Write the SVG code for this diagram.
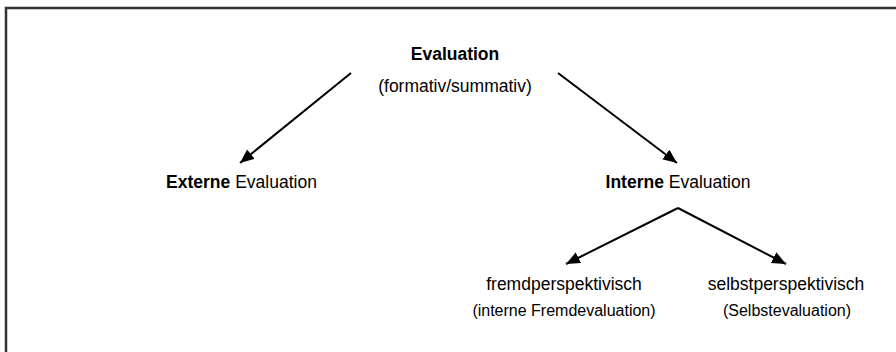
<svg xmlns="http://www.w3.org/2000/svg" width="896" height="352" viewBox="0 0 896 352">
<style>
  text { font-family: "Liberation Sans", Arial, sans-serif; fill: #000; text-anchor: middle; }
  .t { font-size: 17.5px; }
  .s { font-size: 16px; }
  .b { font-weight: bold; }
  .c { stroke: #000; stroke-width: 2; fill: none; marker-end: url(#ah); }
</style>
<defs>
  <marker id="ah" markerUnits="userSpaceOnUse" markerWidth="16" markerHeight="14" refX="14" refY="6" orient="auto">
    <path d="M0,0 L14,6 L0,12 Z" fill="#000"/>
  </marker>
</defs>
<rect x="0" y="0" width="896" height="352" fill="#fff"/>
<path d="M6,352 V8 H896" fill="none" stroke="#333" stroke-width="2.5"/>
<g id="connectors">
  <line class="c" x1="351" y1="73" x2="240" y2="163"/>
  <line class="c" x1="558" y1="73" x2="677" y2="163"/>
  <polyline class="c" points="678,208 566,264"/>
  <polyline class="c" points="678,208 786,264"/>
</g>
<g id="evaluation">
  <text class="t b" x="455" y="60">Evaluation</text>
  <text class="t" x="455" y="92">(formativ/summativ)</text>
</g>
<g id="externe">
  <text class="t" x="241.5" y="188"><tspan class="b">Externe</tspan> Evaluation</text>
</g>
<g id="interne">
  <text class="t" x="678" y="188"><tspan class="b">Interne</tspan> Evaluation</text>
</g>
<g id="fremd">
  <text class="t" x="564" y="290">fremdperspektivisch</text>
  <text class="s" x="564" y="316">(interne Fremdevaluation)</text>
</g>
<g id="selbst">
  <text class="t" x="786" y="290">selbstperspektivisch</text>
  <text class="s" x="787" y="316">(Selbstevaluation)</text>
</g>
</svg>
